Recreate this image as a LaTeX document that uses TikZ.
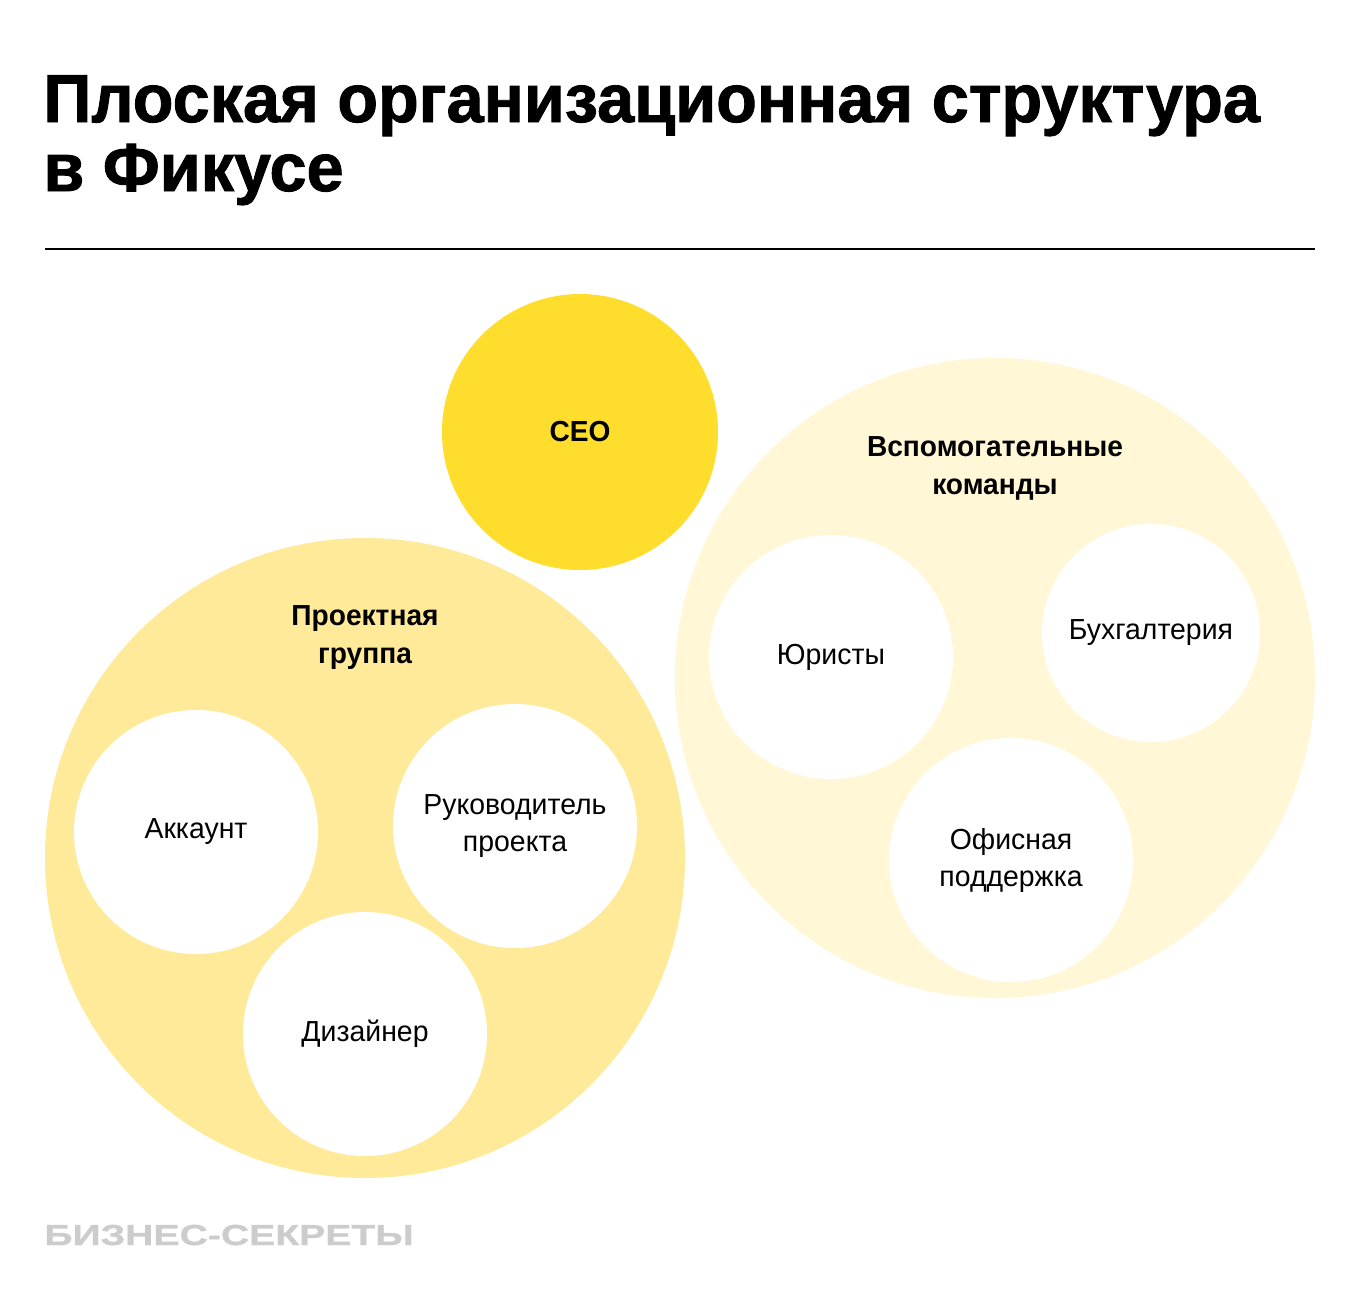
\documentclass[tikz,border=0pt]{standalone}
\usepackage{fontspec}
\setmainfont[FakeStretch=0.98]{Liberation Sans}
\newfontfamily\boldlbl[FakeStretch=0.97]{Liberation Sans Bold}
\newfontfamily\titlefont[FakeStretch=0.98,FakeBold=1.3]{Liberation Sans Bold}
\newfontfamily\footfont[FakeStretch=1.35,FakeBold=0.8]{Liberation Sans Bold}
\definecolor{ceoY}{HTML}{FFDD2D}
\definecolor{projY}{HTML}{FFEA99}
\definecolor{supY}{HTML}{FFF7D6}
\definecolor{footG}{HTML}{CCCCCC}
\tikzset{
  disc/.style={circle, inner sep=0pt, draw=none},
  lbl/.style={align=center, font=\fontsize{14.5}{18.5}\selectfont, text=black},
  blbl/.style={align=center, font=\boldlbl\fontsize{14.5}{19}\selectfont, text=black},
}
\begin{document}
\begin{tikzpicture}[x=0.5pt,y=-0.5pt]
\useasboundingbox[fill=white] (0,0) rectangle (1360,1312);
% title
\node[anchor=base west, inner sep=0pt, align=left, font=\titlefont\fontsize{34}{34}\selectfont] (t1) at (43,122) {Плоская организационная структура};
\node[anchor=base west, inner sep=0pt, align=left, font=\titlefont\fontsize{34}{34}\selectfont] (t2) at (43,191) {в Фикусе};
\coordinate (r1) at (45,249);
\coordinate (r2) at (1315,249);
\draw[line width=1pt] (r1) -- (r2);
% big circles
\node[disc, fill=projY, minimum size=320pt] (proj) at (365,858) {};
\node[disc, fill=supY, minimum size=320pt] (sup) at (995,678) {};
\node[disc, fill=ceoY, minimum size=138pt] (ceo) at (580,432) {};
\node[blbl] at (ceo) {CEO};
\node[blbl] (projl) at (365,638) {Проектная\\группа};
\node[blbl] (supl) at (995,468) {Вспомогательные\\команды};
% white circles
\node[disc, fill=white, minimum size=122pt, lbl] (acc) at (196,832) {Аккаунт};
\node[disc, fill=white, minimum size=122pt, lbl] (pm) at (515,826) {Руководитель\\проекта};
\node[disc, fill=white, minimum size=122pt, lbl] (des) at (365,1034) {Дизайнер};
\node[disc, fill=white, minimum size=122pt, lbl] (law) at (831,657) {Юристы};
\node[disc, fill=white, minimum size=109pt, lbl] (acct) at (1151,633) {Бухгалтерия};
\node[disc, fill=white, minimum size=122pt, lbl] (off) at (1011,860) {Офисная\\поддержка};
% footer
\node[anchor=base west, inner sep=0pt, text=footG, font=\footfont\fontsize{14.5}{14.5}\selectfont] (foot) at (44,1245) {БИЗНЕС-СЕКРЕТЫ};
\end{tikzpicture}
\end{document}
